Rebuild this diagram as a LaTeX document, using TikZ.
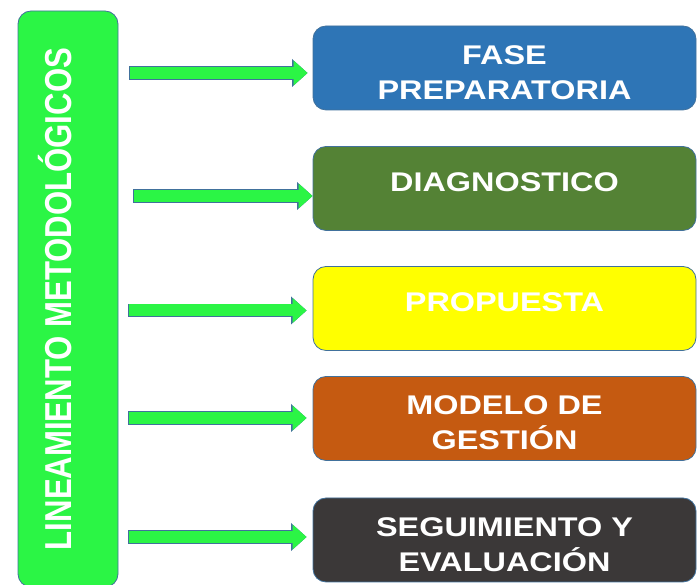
\documentclass[tikz,border=0pt]{standalone}
\usepackage{fontspec}
\setmainfont{Liberation Sans}
\newfontfamily\boxfont[FakeStretch=1.2]{Liberation Sans}
\newfontfamily\sidefont[FakeStretch=0.83]{Liberation Sans}
\usetikzlibrary{arrows.meta}

\definecolor{vivo}{HTML}{2BF545}
\definecolor{borde}{HTML}{41719C}
\definecolor{azul}{HTML}{2E75B6}
\definecolor{oliva}{HTML}{548235}
\definecolor{amarillo}{HTML}{FFFF00}
\definecolor{naranja}{HTML}{C55A11}
\definecolor{grafito}{HTML}{3B3838}

\tikzset{
  fasebox/.style={draw=borde, line width=0.8pt, rounded corners=13pt,
    minimum width=383pt, minimum height=84pt, text=white, align=center,
    font=\boxfont\bfseries\fontsize{27}{35}\selectfont},
  unalinea/.style={text depth=12pt},
  doslineas/.style={text height=63pt},
  lateral/.style={draw=borde, line width=0.8pt, fill=vivo, rounded corners=13pt,
    rotate=90, minimum width=576pt, minimum height=100pt, text=white,
    text height=27pt, text depth=19pt,
    font=\sidefont\bfseries\fontsize{37.5}{40}\selectfont},
  flecha/.style={draw=vivo, line width=12pt, shorten <=0.8pt,
    -{Triangle[length=14pt,width=24pt]},
    preaction={draw=borde, line width=13.6pt, shorten <=0pt,
      -{Triangle[length=15.6pt,width=27pt]}}}
}

\begin{document}
\begin{tikzpicture}
  \useasboundingbox (0,0) rectangle (697pt,585pt);

  \node[lateral] (linea) at (68pt,286pt) {LINEAMIENTO METODOLÓGICOS};

  \node[fasebox, doslineas, fill=azul] (prep) at (504.5pt,517pt) {FASE\\PREPARATORIA};
  \node[fasebox, unalinea, fill=oliva] (diag) at (504.5pt,396.5pt) {DIAGNOSTICO};
  \node[fasebox, unalinea, fill=amarillo] (prop) at (504.5pt,276.5pt) {PROPUESTA};
  \node[fasebox, doslineas, fill=naranja] (gest) at (504.5pt,166.5pt) {MODELO DE\\GESTIÓN};
  \node[fasebox, doslineas, fill=grafito] (eval) at (504.5pt,45pt) {SEGUIMIENTO Y\\EVALUACIÓN};

  % salidas de las flechas
  \coordinate (s1) at (129pt,512pt);
  \coordinate (s2) at (133pt,389pt);
  \coordinate (s3) at (128pt,274.5pt);
  \coordinate (s4) at (128pt,167pt);
  \coordinate (s5) at (128pt,48pt);

  \draw[flecha, shorten >=5pt] (s1) -- (s1 -| prep.west);
  \draw[flecha] (s2) -- (s2 -| diag.west);
  \draw[flecha, shorten >=6pt] (s3) -- (s3 -| prop.west);
  \draw[flecha, shorten >=6pt] (s4) -- (s4 -| gest.west);
  \draw[flecha, shorten >=6pt] (s5) -- (s5 -| eval.west);
\end{tikzpicture}
\end{document}
